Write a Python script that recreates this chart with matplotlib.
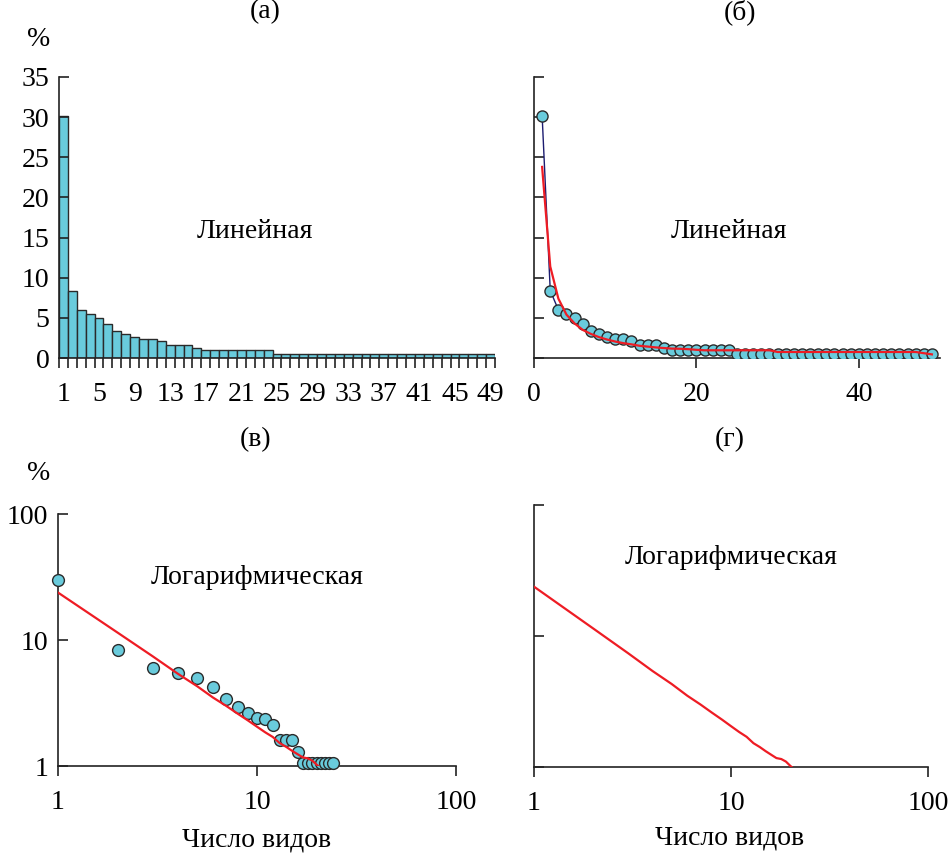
import numpy as np
import matplotlib
matplotlib.use('Agg')
import matplotlib.pyplot as plt
from matplotlib.ticker import FixedLocator, NullLocator

plt.rcParams['font.family'] = ['Liberation Serif', 'DejaVu Serif']
plt.rcParams['font.size'] = 20

# Доля видов, % (ранговое распределение)
rank = list(range(1, 50))
share = [30.2, 8.4, 6.0, 5.5, 5.0, 4.2, 3.4, 2.95, 2.65, 2.4,
         2.35, 2.1, 1.6, 1.6, 1.6, 1.28, 1.05, 1.05, 1.05, 1.05,
         1.05, 1.05, 1.05, 1.05, 0.55, 0.55, 0.55, 0.55, 0.55, 0.55,
         0.55, 0.55, 0.55, 0.55, 0.55, 0.55, 0.55, 0.55, 0.55, 0.55,
         0.55, 0.55, 0.55, 0.55, 0.55, 0.55, 0.55, 0.55, 0.55]
# аппроксимация (красная линия)
fit = [23.8, 11.4, 7.4, 5.4, 4.3, 3.5, 3.0, 2.6, 2.3, 2.05,
       1.85, 1.7, 1.52, 1.42, 1.32, 1.24, 1.17, 1.15, 1.1, 1.02,
       0.96, 0.96, 0.96, 0.96, 0.96, 0.96, 0.96, 0.96, 0.96, 0.75,
       0.75, 0.75, 0.75, 0.75, 0.75, 0.75, 0.75, 0.75, 0.75, 0.75,
       0.75, 0.75, 0.75, 0.75, 0.75, 0.75, 0.75, 0.6, 0.45]

lin_yticks = [0, 5, 10, 15, 20, 25, 30, 35]
bar_xticks = list(range(1, 50, 4))
log_ticks = [1, 10, 100]

W, H = 948, 856
fig = plt.figure(figsize=(W / 100, H / 100), dpi=100)

def px_axes(x0, y0, x1, y1):
    # y0 - верх, y1 - низ (в пикселях)
    return fig.add_axes([x0 / W, 1 - y1 / H, (x1 - x0) / W, (y1 - y0) / H])

fill = '#69CBDC'
edge = '#2a2a2a'
axc = '#222222'

def style(ax):
    for s in ['top', 'right']:
        ax.spines[s].set_visible(False)
    for s in ['left', 'bottom']:
        ax.spines[s].set_color(axc)
        ax.spines[s].set_linewidth(1.2)
    ax.tick_params(axis='y', direction='in', length=7, width=1.2, color=axc, pad=7)
    ax.tick_params(axis='x', direction='out', length=7, width=1.2, color=axc, pad=10)

# (а) гистограмма
ax1 = px_axes(59, 77, 495, 358)
ax1.bar(rank, share, width=1.0, color=fill, edgecolor=edge, linewidth=1)
ax1.set_xlim(0.5, 49.5)
ax1.set_ylim(0, 35)
style(ax1)
ax1.set_yticks(lin_yticks)
ax1.set_xticks(bar_xticks)
ax1.xaxis.set_minor_locator(FixedLocator(np.arange(0.5, 50, 1)))
ax1.tick_params(axis='x', which='major', length=7, color=(0, 0, 0, 0), pad=10)
ax1.tick_params(axis='x', which='minor', direction='out', length=7, width=1.2, color=axc)
ax1.text(0.45, 0.45, 'Линейная', transform=ax1.transAxes, ha='center', va='center')

# (б) точки с аппроксимацией
ax2 = px_axes(534, 77, 940, 358)
ax2.plot(rank, share, color='#1c1c70', lw=1, zorder=2)
ax2.plot(rank, share, 'o', ms=8, mfc=fill, mec=edge, mew=1, zorder=3)
ax2.plot(rank, fit, color='#ee1c24', lw=1.6, zorder=4)
ax2.set_xlim(0, 50)
ax2.set_ylim(0, 35)
style(ax2)
ax2.set_yticks(lin_yticks)
ax2.set_yticklabels([])
ax2.set_xticks([0, 20, 40])
ax2.text(0.48, 0.45, 'Линейная', transform=ax2.transAxes, ha='center', va='center')

# (в) логарифмическая шкала: точки ниже 1 % за пределами оси
r_arr = np.array(rank)
s_arr = np.array(share)
vis = s_arr >= 1
ax3 = px_axes(58, 514, 456, 766)
ax3.plot(r_arr[vis], s_arr[vis], 'o', ms=8.5, mfc=fill, mec=edge, mew=1, zorder=3, clip_on=False)
ax3.plot(rank, fit, color='#ee1c24', lw=1.6, zorder=4)
ax3.set_xscale('log')
ax3.set_yscale('log')
ax3.set_xlim(1, 100)
ax3.set_ylim(1, 100)
style(ax3)
for a in (ax3.xaxis, ax3.yaxis):
    a.set_major_locator(FixedLocator(log_ticks))
    a.set_minor_locator(NullLocator())
ax3.set_xticklabels(['1', '10', '100'])
ax3.set_yticklabels(['1', '10', '100'])
ax3.text(0.5, 0.75, 'Логарифмическая', transform=ax3.transAxes, ha='center', va='center')

# (г) только аппроксимация
ax4 = px_axes(534, 505, 928, 767)
ax4.plot(rank, fit, color='#ee1c24', lw=1.6, zorder=4)
ax4.set_xscale('log')
ax4.set_yscale('log')
ax4.set_xlim(1, 100)
ax4.set_ylim(1, 100)
style(ax4)
for a in (ax4.xaxis, ax4.yaxis):
    a.set_major_locator(FixedLocator(log_ticks))
    a.set_minor_locator(NullLocator())
ax4.set_xticklabels(['1', '10', '100'])
ax4.set_yticklabels([])
ax4.text(0.5, 0.8, 'Логарифмическая', transform=ax4.transAxes, ha='center', va='center')

# подписи панелей и осей
for x, y, s in [(265, 12, '(а)'), (740, 12, '(б)'), (256, 440, '(в)'), (730, 440, '(г)'),
                (257, 840, 'Число видов'), (730, 838, 'Число видов')]:
    fig.text(x / W, 1 - y / H, s, ha='center', va='center')
for y in (40, 474):
    fig.text(39 / W, 1 - y / H, '%', ha='center', va='center')

fig.savefig('out.png', dpi=100)
